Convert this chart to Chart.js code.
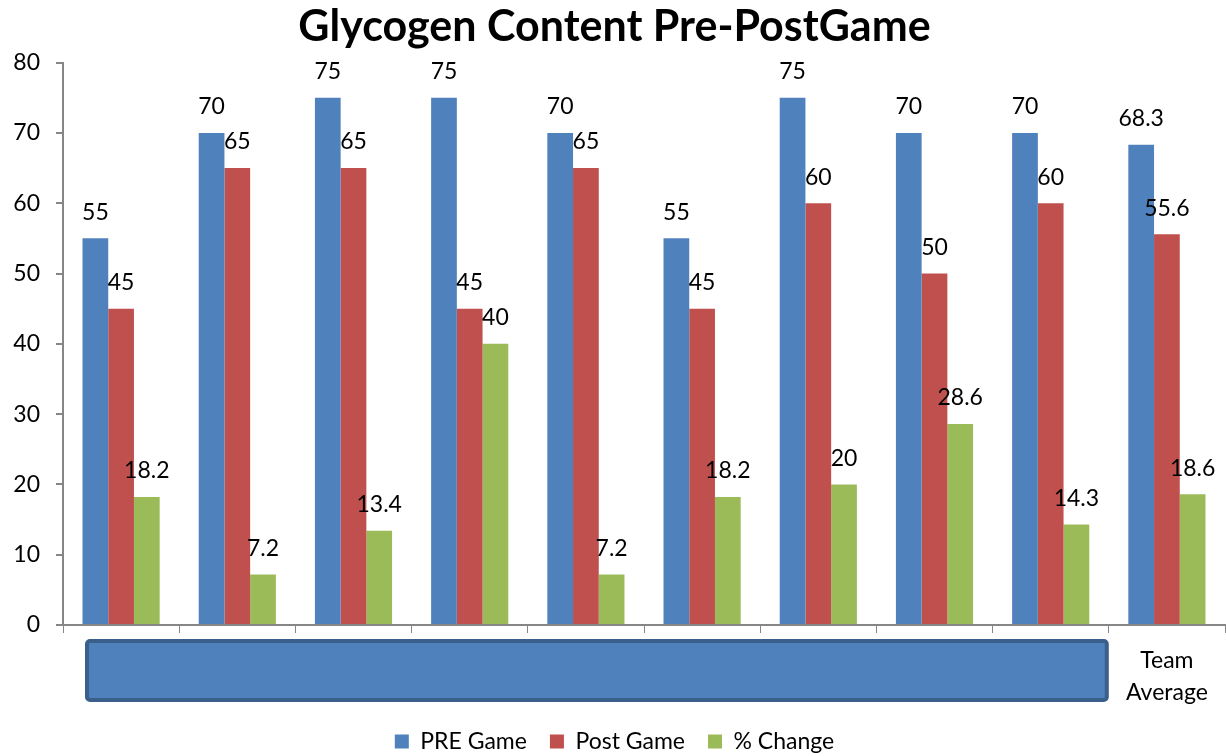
<!DOCTYPE html>
<html>
<head>
<meta charset="utf-8">
<title>Glycogen Content Pre-PostGame</title>
<script src="https://cdn.jsdelivr.net/npm/chart.js@4.4.1/dist/chart.umd.min.js"></script>
<style>
  html, body { margin: 0; padding: 0; background: #fff; }
  #wrap { width: 1226px; height: 756px; }
</style>
</head>
<body>
<div id="wrap"><canvas id="glycogenChart"></canvas></div>
<script>
// players are blanked out, only the team average has a visible label
var categories = ['', '', '', '', '', '', '', '', '', ['Team', 'Average']];
var preGame = [55, 70, 75, 75, 70, 55, 75, 70, 70, 68.3];
var postGame = [45, 65, 65, 45, 65, 45, 60, 50, 60, 55.6];
var pctChange = [18.2, 7.2, 13.4, 40, 7.2, 18.2, 20, 28.6, 14.3, 18.6];
var yTicks = [0, 10, 20, 30, 40, 50, 60, 70, 80];

var FONT = 'Lato, "Open Sans", sans-serif';
var axisGray = '#868686';

// value labels above each bar
var barLabels = {
    id: 'barLabels',
    afterDatasetsDraw: function(chart) {
        var ctx = chart.ctx;
        ctx.save();
        ctx.font = '23px ' + FONT;
        ctx.fillStyle = '#000';
        ctx.textAlign = 'center';
        ctx.textBaseline = 'middle';
        chart.data.datasets.forEach(function(ds, i) {
            var meta = chart.getDatasetMeta(i);
            meta.data.forEach(function(bar, j) {
                ctx.fillText(ds.data[j], bar.x, bar.y - 26);
            });
        });
        ctx.restore();
    }
};

// the filled box that hides the player names
var nameBox = {
    id: 'nameBox',
    afterDraw: function(chart) {
        var x = chart.scales.x;
        var ctx = chart.ctx;
        var half = (x.getPixelForValue(1) - x.getPixelForValue(0)) / 2;
        var left = x.getPixelForValue(0) - half + 24;
        var right = x.getPixelForValue(8) + half - 2;
        var top = chart.chartArea.bottom + 16;
        var h = 59;
        ctx.save();
        ctx.fillStyle = '#4F81BD';
        ctx.strokeStyle = '#3A5F8B';
        ctx.lineWidth = 4;
        ctx.beginPath();
        ctx.roundRect(left, top, right - left, h, 3);
        ctx.fill();
        ctx.stroke();
        ctx.restore();
    }
};

var ctx = document.getElementById('glycogenChart').getContext('2d');

var glycogenChart = new Chart(ctx, {
    type: 'bar',
    data: {
        labels: categories,
        datasets: [{
            label: 'PRE Game',
            data: preGame,
            backgroundColor: '#4F81BD'
        }, {
            label: 'Post Game',
            data: postGame,
            backgroundColor: '#C0504D'
        }, {
            label: '% Change',
            data: pctChange,
            backgroundColor: '#9BBB59'
        }]
    },
    options: {
        responsive: true,
        maintainAspectRatio: false,
        animation: false,
        layout: {
            padding: { left: 4, right: 1, top: 0, bottom: -7 }
        },
        datasets: {
            bar: {
                categoryPercentage: 0.664,
                barPercentage: 1.0
            }
        },
        plugins: {
            title: {
                display: true,
                text: 'Glycogen Content Pre-PostGame',
                color: '#000',
                font: { family: FONT, size: 43, weight: 'bold' },
                padding: { top: 1, bottom: 10 }
            },
            legend: {
                position: 'bottom',
                labels: {
                    color: '#000',
                    font: { family: FONT, size: 23 },
                    boxWidth: 14,
                    boxHeight: 14,
                    padding: 23
                }
            },
            tooltip: { enabled: false }
        },
        scales: {
            x: {
                grid: {
                    display: true,
                    drawOnChartArea: false,
                    tickLength: 8,
                    color: axisGray
                },
                border: { color: axisGray, width: 2 },
                ticks: {
                    color: '#000',
                    font: { family: FONT, size: 23, lineHeight: 1.4 },
                    maxRotation: 0,
                    autoSkip: false,
                    padding: 11
                },
                afterFit: function(scale) { scale.height = 82; }
            },
            y: {
                min: 0,
                max: 80,
                afterBuildTicks: function(scale) {
                    scale.ticks = yTicks.map(function(v) { return { value: v }; });
                },
                grid: {
                    display: true,
                    drawOnChartArea: false,
                    tickLength: 7,
                    color: axisGray,
                    lineWidth: 2
                },
                border: { color: axisGray, width: 2 },
                ticks: {
                    color: '#000',
                    font: { family: FONT, size: 23 },
                    padding: 16
                },
                afterFit: function(scale) { scale.width = 59; }
            }
        }
    },
    plugins: [barLabels, nameBox]
});
</script>
</body>
</html>
